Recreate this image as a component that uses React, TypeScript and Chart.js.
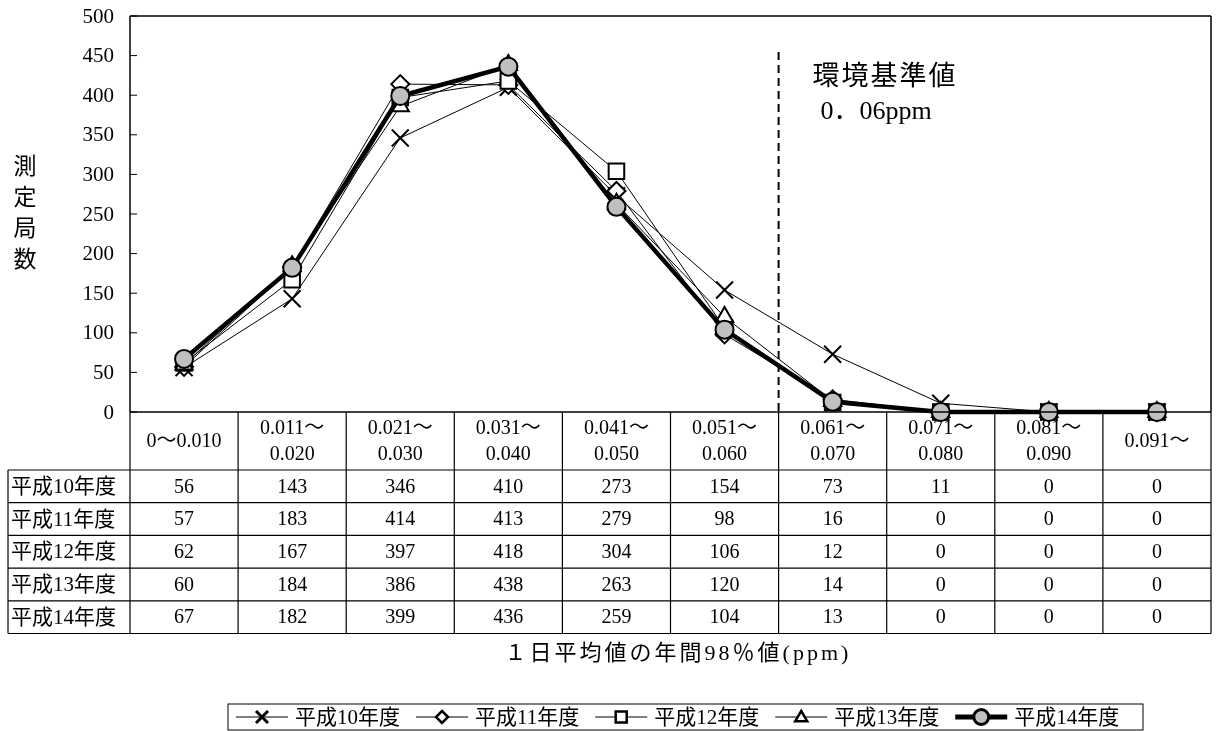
import React, { useEffect, useRef } from 'react';
import { Chart, registerables } from 'chart.js';

Chart.register(...registerables);

const categories = ['0～0.010', '0.011～\n0.020', '0.021～\n0.030', '0.031～\n0.040', '0.041～\n0.050', '0.051～\n0.060', '0.061～\n0.070', '0.071～\n0.080', '0.081～\n0.090', '0.091～'];
const seriesNames = ['平成10年度', '平成11年度', '平成12年度', '平成13年度', '平成14年度'];
const h10 = [56, 143, 346, 410, 273, 154, 73, 11, 0, 0];
const h11 = [57, 183, 414, 413, 279, 98, 16, 0, 0, 0];
const h12 = [62, 167, 397, 418, 304, 106, 12, 0, 0, 0];
const h13 = [60, 184, 386, 438, 263, 120, 14, 0, 0, 0];
const h14 = [67, 182, 399, 436, 259, 104, 13, 0, 0, 0];
const yTicks = [0, 50, 100, 150, 200, 250, 300, 350, 400, 450, 500];
const yTitle = ['測', '定', '局', '数'];
const xTitle = '１日平均値の年間98％値(ppm)';
const refLabel = ['環境基準値', '0．06ppm'];
const refIndex = 5.5;

const SERIF = '"Liberation Serif", "DejaVu Serif", "Noto Sans CJK JP", serif';
const GREY = '#c0c0c0';

const seriesValues = [h10, h11, h12, h13, h14];
const styles = [
  { ps: 'crossRot', r: 12, lw: 1, bw: 2, fill: '#fff' },
  { ps: 'rectRot', r: 9, lw: 1, bw: 2, fill: '#fff' },
  { ps: 'rect', r: 11, lw: 1, bw: 2, fill: '#fff' },
  { ps: 'triangle', r: 10, lw: 1, bw: 2, fill: '#fff' },
  { ps: 'circle', r: 9, lw: 4.5, bw: 2, fill: GREY },
];

function drawMarker(ctx: CanvasRenderingContext2D, kind: string, x: number, y: number) {
  ctx.save();
  ctx.strokeStyle = '#000';
  ctx.fillStyle = '#fff';
  ctx.lineWidth = 2.5;
  ctx.beginPath();
  if (kind === 'crossRot') {
    const s = 6;
    ctx.lineWidth = 3;
    ctx.moveTo(x - s, y - s); ctx.lineTo(x + s, y + s);
    ctx.moveTo(x + s, y - s); ctx.lineTo(x - s, y + s);
    ctx.stroke();
  } else if (kind === 'rectRot') {
    const s = 6;
    ctx.moveTo(x, y - s); ctx.lineTo(x + s, y); ctx.lineTo(x, y + s); ctx.lineTo(x - s, y); ctx.closePath();
    ctx.fill(); ctx.stroke();
  } else if (kind === 'rect') {
    const s = 5.5;
    ctx.rect(x - s, y - s, 2 * s, 2 * s);
    ctx.fill(); ctx.stroke();
  } else if (kind === 'triangle') {
    const s = 6;
    ctx.moveTo(x, y - s); ctx.lineTo(x + s, y + s * 0.7); ctx.lineTo(x - s, y + s * 0.7); ctx.closePath();
    ctx.fill(); ctx.stroke();
  } else {
    ctx.fillStyle = GREY;
    ctx.lineWidth = 3;
    ctx.arc(x, y, 7.5, 0, Math.PI * 2);
    ctx.fill(); ctx.stroke();
  }
  ctx.restore();
}

const framePlugin = {
  id: 'frame',
  beforeDatasetsDraw(chart: any) {
    const { ctx, chartArea: ca, scales } = chart;
    const x = scales.x;
    const y = scales.y;
    ctx.save();
    ctx.strokeStyle = '#000';
    ctx.lineWidth = 1.5;
    ctx.beginPath();
    ctx.moveTo(ca.left, ca.top); ctx.lineTo(ca.right, ca.top);
    ctx.moveTo(ca.left, ca.top); ctx.lineTo(ca.left, ca.bottom);
    ctx.moveTo(ca.right, ca.top); ctx.lineTo(ca.right, ca.bottom);
    ctx.stroke();
    ctx.lineWidth = 1;
    ctx.beginPath();
    for (const v of yTicks) {
      const py = y.getPixelForValue(v);
      ctx.moveTo(ca.left, py); ctx.lineTo(ca.left + 7, py);
    }
    ctx.stroke();
    const p0 = x.getPixelForValue(5);
    const p1 = x.getPixelForValue(6);
    const rx = p0 + (p1 - p0) * (refIndex - 5);
    ctx.lineWidth = 2;
    ctx.setLineDash([8, 5]);
    ctx.beginPath();
    ctx.moveTo(rx, ca.top + 36); ctx.lineTo(rx, ca.bottom);
    ctx.stroke();
    ctx.setLineDash([]);
    ctx.restore();
  },
  afterDraw(chart: any) {
    const { ctx, chartArea: ca, scales } = chart;
    const x = scales.x;
    const y = scales.y;
    ctx.save();
    ctx.strokeStyle = '#000';
    ctx.lineWidth = 1.5;
    ctx.beginPath();
    ctx.moveTo(ca.left, ca.bottom); ctx.lineTo(ca.right, ca.bottom);
    ctx.stroke();

    // y tick labels
    ctx.fillStyle = '#000';
    ctx.font = `21px ${SERIF}`;
    ctx.textAlign = 'right';
    ctx.textBaseline = 'middle';
    for (const v of yTicks) {
      ctx.fillText(String(v), 114, y.getPixelForValue(v) + 1);
    }
    // y title
    ctx.font = `23px ${SERIF}`;
    ctx.textAlign = 'center';
    yTitle.forEach((c, i) => ctx.fillText(c, 25, 168 + i * 31));

    // reference text
    ctx.font = `27px ${SERIF}`;
    (ctx as any).letterSpacing = '2px';
    ctx.textAlign = 'center';
    ctx.fillText(refLabel[0], 885, 78);
    (ctx as any).letterSpacing = '0px';
    ctx.font = `26px ${SERIF}`;
    ctx.fillText(refLabel[1], 876, 112);

    // table
    const half = (x.getPixelForValue(1) - x.getPixelForValue(0)) / 2;
    const tableLeft = 8;
    const headerTop = ca.bottom;
    const headerBottom = 470;
    const rowH = 32.7;
    const tableBottom = headerBottom + rowH * seriesNames.length;
    ctx.lineWidth = 1.2;
    ctx.beginPath();
    for (let i = 0; i <= categories.length; i++) {
      const bx = i === categories.length ? ca.right : x.getPixelForValue(i) - half;
      ctx.moveTo(bx, headerTop); ctx.lineTo(bx, tableBottom);
    }
    ctx.moveTo(tableLeft, headerBottom); ctx.lineTo(tableLeft, tableBottom);
    for (let r = 0; r <= seriesNames.length; r++) {
      const ly = headerBottom + rowH * r;
      ctx.moveTo(tableLeft, ly); ctx.lineTo(ca.right, ly);
    }
    ctx.stroke();

    ctx.font = `20px ${SERIF}`;
    ctx.textAlign = 'center';
    categories.forEach((c, i) => {
      const cx = x.getPixelForValue(i);
      const lines = c.split('\n');
      const mid = (headerTop + headerBottom) / 2 + 1;
      if (lines.length === 1) ctx.fillText(lines[0], cx, mid);
      else {
        ctx.fillText(lines[0], cx, mid - 13);
        ctx.fillText(lines[1], cx, mid + 13);
      }
    });
    seriesNames.forEach((name, r) => {
      const cy = headerBottom + rowH * r + rowH / 2 + 1;
      ctx.textAlign = 'left';
      ctx.font = `21px ${SERIF}`;
      ctx.fillText(name, 11, cy);
      ctx.textAlign = 'center';
      ctx.font = `20px ${SERIF}`;
      seriesValues[r].forEach((v, i) => ctx.fillText(String(v), x.getPixelForValue(i), cy));
    });

    // x title
    ctx.font = `22px ${SERIF}`;
    (ctx as any).letterSpacing = '3px';
    ctx.textAlign = 'center';
    ctx.fillText(xTitle, 678, 654);
    (ctx as any).letterSpacing = '0px';

    // legend
    const boxL = 228, boxT = 704, boxR = 1143, boxB = 730;
    ctx.lineWidth = 1;
    ctx.strokeStyle = '#000';
    ctx.strokeRect(boxL, boxT, boxR - boxL, boxB - boxT);
    ctx.font = `21px ${SERIF}`;
    ctx.textAlign = 'left';
    const ly = (boxT + boxB) / 2;
    let lx = 236;
    seriesNames.forEach((name, i) => {
      const st = styles[i];
      ctx.lineWidth = i === 4 ? 5 : 1.2;
      ctx.beginPath();
      ctx.moveTo(lx, ly); ctx.lineTo(lx + 52, ly);
      ctx.stroke();
      drawMarker(ctx, st.ps, lx + 26, ly);
      ctx.fillStyle = '#000';
      ctx.fillText(name, lx + 59, ly + 1);
      lx += 59 + ctx.measureText(name).width + 16;
    });
    ctx.restore();
  },
};

export default function App() {
  const ref = useRef<HTMLCanvasElement>(null);
  useEffect(() => {
    if (!ref.current) return;
    const datasets = seriesNames.map((name, i) => ({
      label: name,
      data: seriesValues[i],
      borderColor: '#000',
      borderWidth: styles[i].lw,
      pointStyle: styles[i].ps as any,
      pointRadius: styles[i].r,
      pointBorderWidth: styles[i].bw,
      pointBackgroundColor: styles[i].fill,
      pointBorderColor: '#000',
      backgroundColor: styles[i].fill,
      tension: 0,
      clip: false as any,
      order: 4 - i,
    }));
    const chart = new Chart(ref.current, {
      type: 'line',
      data: { labels: categories, datasets },
      options: {
        animation: false,
        responsive: true,
        maintainAspectRatio: false,
        layout: { padding: { left: 130, top: 16, right: 1, bottom: 731 - 412 } },
        plugins: { legend: { display: false }, tooltip: { enabled: false } },
        scales: {
          x: { type: 'category', offset: true, display: false },
          y: { min: 0, max: 500, display: false },
        },
      },
      plugins: [framePlugin],
    });
    return () => chart.destroy();
  }, []);
  return (
    <div style={{ position: 'absolute', left: 0, top: 0, width: 1225, height: 731, background: '#fff' }}>
      <canvas ref={ref} />
    </div>
  );
}
